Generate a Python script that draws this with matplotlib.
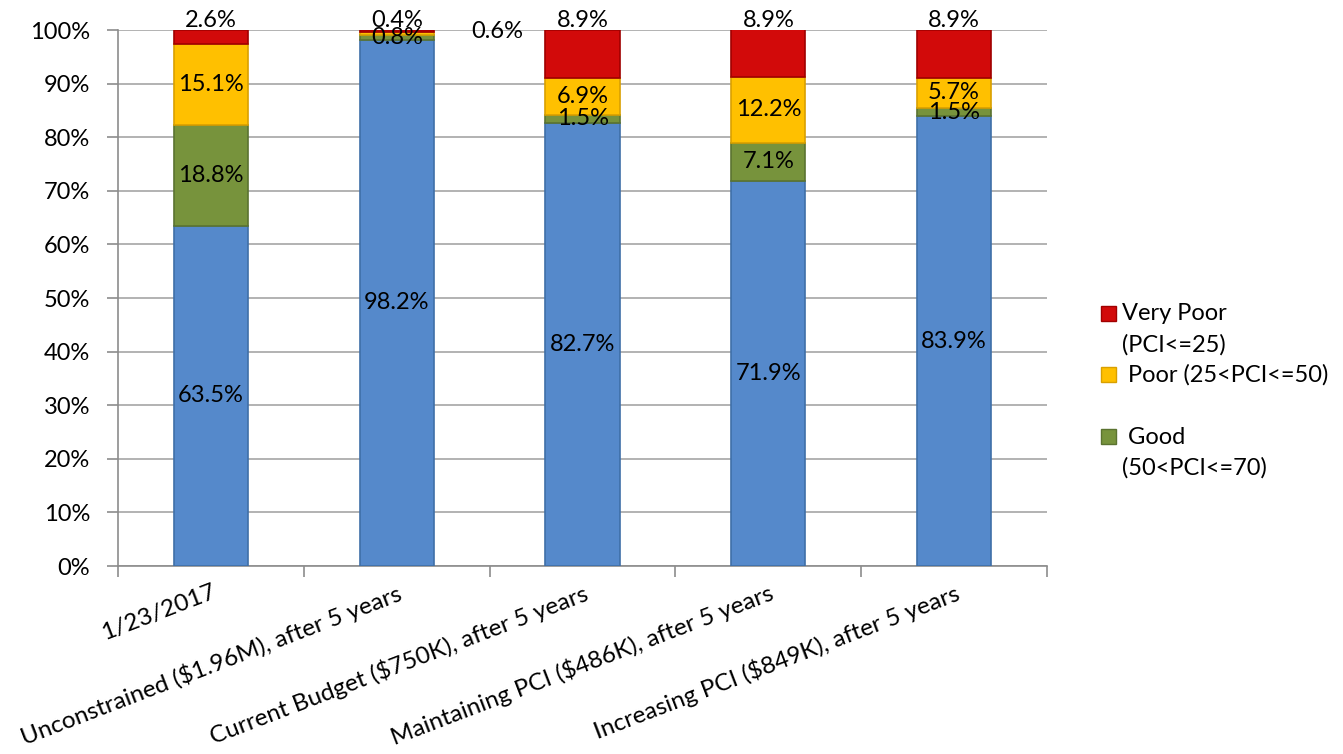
import numpy as np
import matplotlib.pyplot as plt
from matplotlib.patches import Rectangle

plt.rcParams['font.family'] = ['Lato', 'DejaVu Sans']

categories = ['1/23/2017',
              'Unconstrained ($1.96M), after 5 years',
              'Current Budget ($750K), after 5 years',
              'Maintaining PCI ($486K), after 5 years',
              'Increasing PCI ($849K), after 5 years']
excellent = [63.5, 98.2, 82.7, 71.9, 83.9]
good = [18.8, 0.8, 1.5, 7.1, 1.5]
poor = [15.1, 0.6, 6.9, 12.2, 5.7]
very_poor = [2.6, 0.4, 8.9, 8.9, 8.9]

colors = {'exc': '#5589CB', 'good': '#77933C', 'poor': '#FFC000', 'vp': '#D20A0A'}
edges = {'exc': '#3F6FA8', 'good': '#5B7330', 'poor': '#D9A000', 'vp': '#A00000'}

fig = plt.figure(figsize=(13.43, 7.54), dpi=100)
ax = fig.add_axes([0.0879, 0.2493, 0.6917, 0.7109])

x = np.arange(len(categories))
w = 0.40
exc = np.array(excellent)
gd = np.array(good)
pr = np.array(poor)
vp = np.array(very_poor)

ax.bar(x, exc, w, color=colors['exc'], edgecolor=edges['exc'], linewidth=1.2, zorder=3)
ax.bar(x, gd, w, bottom=exc, color=colors['good'], edgecolor=edges['good'], linewidth=1.2, zorder=3)
ax.bar(x, pr, w, bottom=exc + gd, color=colors['poor'], edgecolor=edges['poor'], linewidth=1.2, zorder=3)
ax.bar(x, vp, w, bottom=exc + gd + pr, color=colors['vp'], edgecolor=edges['vp'], linewidth=1.2, zorder=3)

fs = 17
for i in range(len(x)):
    ax.text(x[i], exc[i] / 2, f'{exc[i]:.1f}%', ha='center', va='center', fontsize=fs, zorder=5)
    ax.text(x[i], exc[i] + gd[i] / 2, f'{gd[i]:.1f}%', ha='center', va='center', fontsize=fs, zorder=5)
    if i == 1:
        ax.text(x[i] + 0.54, 99.8, f'{pr[i]:.1f}%', ha='center', va='center', fontsize=fs, zorder=5)
    else:
        ax.text(x[i], exc[i] + gd[i] + pr[i] / 2, f'{pr[i]:.1f}%', ha='center', va='center', fontsize=fs, zorder=5)
    ax.text(x[i], 101.8, f'{vp[i]:.1f}%', ha='center', va='center', fontsize=fs, zorder=5, clip_on=False)

ax.set_xlim(-0.5, 4.5)
ax.set_ylim(0, 100)
ax.set_yticks(np.arange(0, 101, 10))
ax.set_yticklabels([f'{v}%' for v in range(0, 101, 10)], fontsize=fs)
ax.yaxis.grid(True, color='#A6A6A6', linewidth=1.2, zorder=0)
ax.set_axisbelow(True)

ax.set_xticks(x)
ax.set_xticklabels(categories, rotation=21, ha='right', rotation_mode='anchor', fontsize=17.5)
ax.set_xticks(np.arange(-0.5, 5, 1), minor=True)
ax.tick_params(axis='x', which='major', length=0, pad=11)
ax.tick_params(axis='x', which='minor', length=8, color='#8C8C8C', width=1.2)
ax.tick_params(axis='y', length=8, color='#8C8C8C', width=1.2, pad=12)

for s in ['top', 'right']:
    ax.spines[s].set_visible(False)
for s in ['left', 'bottom']:
    ax.spines[s].set_color('#8C8C8C')
    ax.spines[s].set_linewidth(1.2)

# legend drawn in figure pixels to match the Excel layout
W, H = 1343, 754
def px(xp, yp):
    return xp / W, 1 - yp / H

leg = [('vp', 'Very Poor', 314), ('poor', ' Poor (25<PCI<=50)', 375), ('good', ' Good', 437)]
for key, label, yp in leg:
    fx, fy = px(1101, yp + 7)
    fig.patches.append(Rectangle((fx, fy), 15 / W, 15 / H, transform=fig.transFigure,
                                 facecolor=colors[key], edgecolor=edges[key], linewidth=1))
    tx, ty = px(1122, yp)
    fig.text(tx, ty, label, fontsize=fs, va='center', ha='left')
tx, ty = px(1122, 345)
fig.text(tx, ty, '(PCI<=25)', fontsize=fs, va='center', ha='left')
tx, ty = px(1122, 468)
fig.text(tx, ty, '(50<PCI<=70)', fontsize=fs, va='center', ha='left')

fig.savefig('out.png', dpi=100)
